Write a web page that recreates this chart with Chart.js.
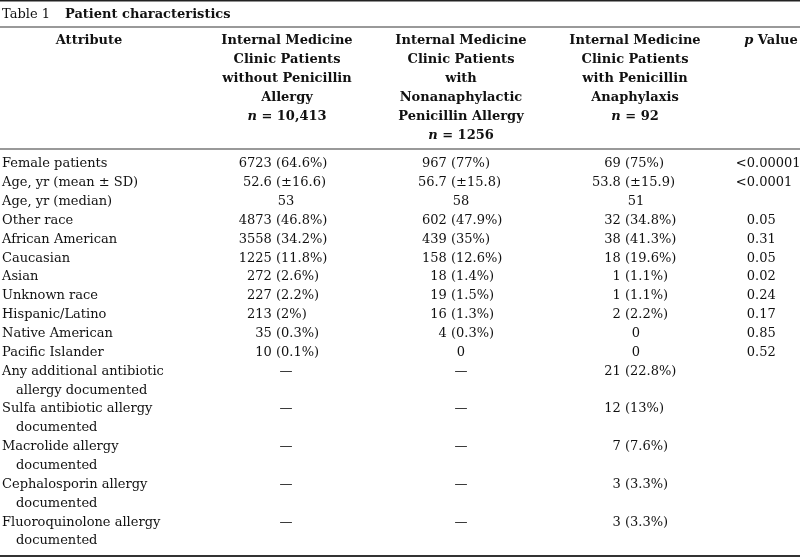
<!DOCTYPE html>
<html>
<head>
<meta charset="utf-8">
<script src="https://cdn.jsdelivr.net/npm/chart.js@4.4.0/dist/chart.umd.min.js"></script>
<style>
  html, body { margin: 0; padding: 0; background: #fff; }
  canvas { display: block; }
</style>
</head>
<body>
<canvas id="patientTable" width="800" height="558"></canvas>
<script>
// table content
const tableTitle = ['Table 1', 'Patient characteristics'];

const columnHeaders = [
  ['Attribute'],
  ['Internal Medicine', 'Clinic Patients', 'without Penicillin', 'Allergy', 'n = 10,413'],
  ['Internal Medicine', 'Clinic Patients', 'with', 'Nonanaphylactic', 'Penicillin Allergy', 'n = 1256'],
  ['Internal Medicine', 'Clinic Patients', 'with Penicillin', 'Anaphylaxis', 'n = 92'],
  ['p Value']
];

const attributes = [
  ['Female patients'],
  ['Age, yr (mean \u00b1 SD)'],
  ['Age, yr (median)'],
  ['Other race'],
  ['African American'],
  ['Caucasian'],
  ['Asian'],
  ['Unknown race'],
  ['Hispanic/Latino'],
  ['Native American'],
  ['Pacific Islander'],
  ['Any additional antibiotic', 'allergy documented'],
  ['Sulfa antibiotic allergy', 'documented'],
  ['Macrolide allergy', 'documented'],
  ['Cephalosporin allergy', 'documented'],
  ['Fluoroquinolone allergy', 'documented']
];

const withoutAllergy = ['6723 (64.6%)', '52.6 (\u00b116.6)', '53', '4873 (46.8%)', '3558 (34.2%)',
  '1225 (11.8%)', '272 (2.6%)', '227 (2.2%)', '213 (2%)', '35 (0.3%)', '10 (0.1%)',
  '\u2014', '\u2014', '\u2014', '\u2014', '\u2014'];

const nonanaphylactic = ['967 (77%)', '56.7 (\u00b115.8)', '58', '602 (47.9%)', '439 (35%)',
  '158 (12.6%)', '18 (1.4%)', '19 (1.5%)', '16 (1.3%)', '4 (0.3%)', '0',
  '\u2014', '\u2014', '\u2014', '\u2014', '\u2014'];

const anaphylaxis = ['69 (75%)', '53.8 (\u00b115.9)', '51', '32 (34.8%)', '38 (41.3%)',
  '18 (19.6%)', '1 (1.1%)', '1 (1.1%)', '2 (2.2%)', '0', '0',
  '21 (22.8%)', '12 (13%)', '7 (7.6%)', '3 (3.3%)', '3 (3.3%)'];

const pValues = ['<0.00001', '<0.0001', '', '0.05', '0.31', '0.05', '0.02', '0.24',
  '0.17', '0.85', '0.52', '', '', '', '', ''];

// layout (x in pixels of an 800 wide axis, y in text lines)
const FONT = '"DejaVu Serif", serif';
const FONT_SIZE = 13;
const headerCenters = [89, 287, 461, 635, 771];
const cellCenters = [2, 286, 461, 636, 761];
const cellAnchors = [null, 276, 451, 625, 755];
const anchorChars = [null, '(', '(', '(', '.'];
const INDENT = 16;
const TITLE_LINE = -7.93;
const HEADER_LINE = -6.525;
const rules = [
  {y: -8.66, width: 1.5, color: '#222'},
  {y: -7.27, width: 1.5, color: '#777'},
  {y: -0.80, width: 1.5, color: '#777'},
  {y: 20.80, width: 2, color: '#333'}
];

// first text line of every row
const rowLine = [];
let line = 0;
attributes.forEach(a => { rowLine.push(line); line += a.length; });

const attributePoints = [];
attributes.forEach((a, r) => a.forEach((t, k) => {
  attributePoints.push({x: k === 0 ? cellCenters[0] : INDENT, y: rowLine[r] + k, text: t});
}));

const valueColumns = [withoutAllergy, nonanaphylactic, anaphylaxis, pValues];

const datasets = [{label: 'Attribute', data: attributePoints, pointRadius: 0}].concat(
  valueColumns.map((col, c) => ({
    label: columnHeaders[c + 1].join(' '),
    data: col.map((v, r) => ({x: cellCenters[c + 1], y: rowLine[r], text: v})),
    pointRadius: 0
  }))
);

function drawHeaderLine(ctx, text, cx, py) {
  const m = text.match(/^([np]) (.*)$/);
  const bold = 'bold ' + FONT_SIZE + 'px ' + FONT;
  const italic = 'italic bold ' + FONT_SIZE + 'px ' + FONT;
  if (!m) {
    ctx.font = bold;
    ctx.textAlign = 'center';
    ctx.fillText(text, cx, py);
    return;
  }
  ctx.font = italic;
  const w1 = ctx.measureText(m[1]).width;
  ctx.font = bold;
  const w2 = ctx.measureText(' ' + m[2]).width;
  const left = cx - (w1 + w2) / 2;
  ctx.textAlign = 'left';
  ctx.font = italic;
  ctx.fillText(m[1], left, py);
  ctx.font = bold;
  ctx.fillText(' ' + m[2], left + w1, py);
}

const tableText = {
  id: 'tableText',
  afterDatasetsDraw(chart) {
    const ctx = chart.ctx;
    const xs = chart.scales.x, ys = chart.scales.y;
    ctx.save();
    ctx.fillStyle = '#111';
    ctx.textBaseline = 'middle';

    // rules
    rules.forEach(r => {
      const py = ys.getPixelForValue(r.y);
      ctx.strokeStyle = r.color;
      ctx.lineWidth = r.width;
      ctx.beginPath();
      ctx.moveTo(xs.getPixelForValue(0), py);
      ctx.lineTo(xs.getPixelForValue(800), py);
      ctx.stroke();
    });

    // title
    const ty = ys.getPixelForValue(TITLE_LINE);
    ctx.textAlign = 'left';
    ctx.font = FONT_SIZE + 'px ' + FONT;
    ctx.fillText(tableTitle[0], xs.getPixelForValue(2), ty);
    ctx.font = 'bold ' + FONT_SIZE + 'px ' + FONT;
    ctx.fillText(tableTitle[1], xs.getPixelForValue(65), ty);

    // column headers
    columnHeaders.forEach((lines, c) => {
      lines.forEach((t, k) => {
        drawHeaderLine(ctx, t, xs.getPixelForValue(headerCenters[c]), ys.getPixelForValue(HEADER_LINE + k));
      });
    });

    // body cells
    ctx.font = FONT_SIZE + 'px ' + FONT;
    chart.data.datasets.forEach((ds, c) => {
      const meta = chart.getDatasetMeta(c);
      meta.data.forEach((pt, i) => {
        const text = ds.data[i].text;
        if (!text) return;
        if (c === 0) {
          ctx.textAlign = 'left';
          ctx.fillText(text, pt.x, pt.y);
          return;
        }
        const cut = text.indexOf(anchorChars[c]);
        if (cut < 0) {
          ctx.textAlign = 'center';
          ctx.fillText(text, pt.x, pt.y);
          return;
        }
        const ax = xs.getPixelForValue(cellAnchors[c]);
        ctx.textAlign = 'right';
        ctx.fillText(text.slice(0, cut), ax, pt.y);
        ctx.textAlign = 'left';
        ctx.fillText(text.slice(cut), ax, pt.y);
      });
    });
    ctx.restore();
  }
};

new Chart(document.getElementById('patientTable'), {
  type: 'scatter',
  data: {datasets: datasets},
  options: {
    responsive: false,
    animation: false,
    devicePixelRatio: 1,
    events: [],
    layout: {padding: 0},
    plugins: {legend: {display: false}, tooltip: {enabled: false}},
    scales: {
      x: {type: 'linear', display: false, min: 0, max: 800},
      y: {type: 'linear', display: false, reverse: true, min: -8.70, max: 20.90}
    }
  },
  plugins: [tableText]
});
</script>
</body>
</html>
